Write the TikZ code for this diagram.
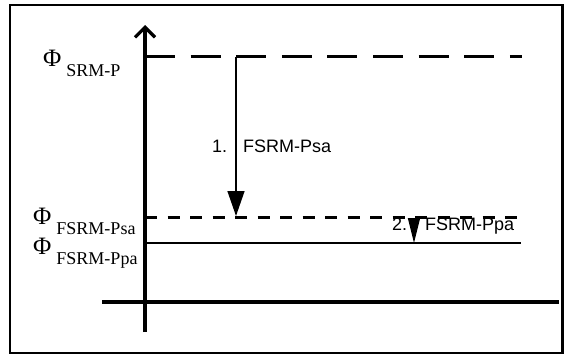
\documentclass[tikz,border=0pt]{standalone}
\usepackage{fontspec}
\setmainfont{Liberation Serif}
\setsansfont{Liberation Sans}
\usetikzlibrary{arrows.meta}

\begin{document}
\begin{tikzpicture}[x=1pt,y=-1pt,every node/.style={inner sep=0pt,anchor=base west}]
    \tikzset{axis/.style={line width=3.2pt},
      fluxlbl/.style={font=\fontsize{25}{25}\selectfont},
      steplbl/.style={font=\sffamily\fontsize{18}{18}\selectfont},
      drop/.style={line width=1.4pt,-{Triangle[length=25pt,width=17pt]}}}
    \newcommand{\flux}[1]{Φ\hspace{5pt}\raisebox{-10pt}{\fontsize{18}{18}\selectfont #1}}
    \useasboundingbox (0,0) rectangle (564,356);
    \draw[line width=2.8pt] (10,5) rectangle (562.5,353);
    % axes
    \coordinate (ytop) at (145,25);
    \coordinate (ybot) at (145,332);
    \coordinate (xl) at (102,302);
    \coordinate (xr) at (559,302);
    \draw[axis] (xl) -- (xr);
    \draw[axis,-{Straight Barb[length=10pt,width=20pt]}] (ybot) -- (ytop);
    % flux levels
    \coordinate (srmL) at (145,56.5);   \coordinate (srmR) at (522,56.5);
    \coordinate (psaL) at (145,217.5);  \coordinate (psaR) at (522,217.5);
    \coordinate (ppaL) at (145,243);    \coordinate (ppaR) at (521,243);
    \draw[line width=3.2pt,dash pattern=on 30pt off 15.6pt] (srmL) -- (srmR);
    \draw[line width=2.5pt,dash pattern=on 12pt off 10.5pt] (psaL) -- (psaR);
    \draw[line width=1.6pt] (ppaL) -- (ppaR);
    % transitions
    \coordinate (a1) at (236,56.5);  \coordinate (b1) at (236,216);
    \coordinate (a2) at (414,218.5); \coordinate (b2) at (414,243);
    \draw[drop] (a1) -- (b1);
    \draw[drop,-{Triangle[length=25pt,width=12pt]}] (a2) -- (b2);
    \node[steplbl] (n1) at (212,152) {1.};
    \node[steplbl] (t1) at (243,152) {FSRM-Psa};
    \node[steplbl] (n2) at (392,230) {2.};
    \node[steplbl] (t2) at (425,230) {FSRM-Ppa};
    % level names
    \node[fluxlbl] (phiP) at (43,66) {\flux{SRM-P}};
    \node[fluxlbl] (phiPsa) at (33,224.5) {\flux{FSRM-Psa}};
    \node[fluxlbl] (phiPpa) at (33,254.5) {\flux{FSRM-Ppa}};
\end{tikzpicture}
\end{document}
